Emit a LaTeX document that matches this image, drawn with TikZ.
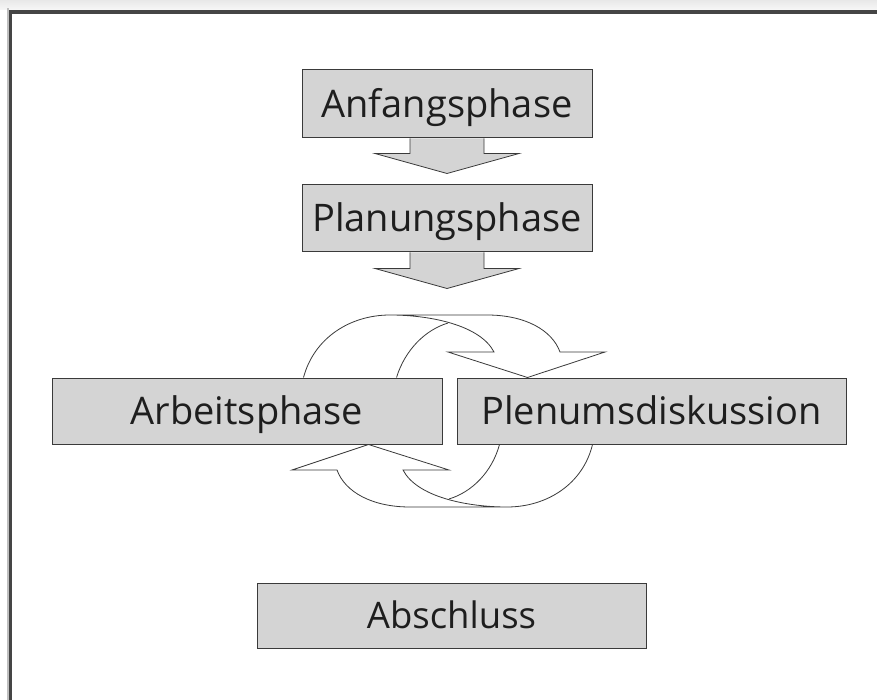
\documentclass[tikz,border=0pt]{standalone}
\usepackage{fontspec}
\setmainfont{Open Sans}
\usetikzlibrary{calc,backgrounds}
\definecolor{boxgray}{HTML}{D4D4D4}
\definecolor{edgegray}{HTML}{3A3A3A}
\definecolor{framegray}{HTML}{454545}
\definecolor{txtcol}{HTML}{1E1E1E}
\begin{document}
\begin{tikzpicture}[x=1pt,y=-1pt,
  phasebox/.style={draw=edgegray, line width=1pt, fill=boxgray, inner sep=0pt,
    text height=26.5pt, text depth=0pt, text=txtcol, font=\fontsize{38}{45}\selectfont},
  blockarrow/.style={draw=edgegray, line width=0.8pt, fill=boxgray, line join=miter},
  curvearrow/.style={draw=edgegray, line width=0.8pt, line join=miter},
  framestyle/.style={draw=framegray, line width=3.5pt, line join=miter}]
\useasboundingbox (0,0) rectangle (877,700);

% boxes
\node[phasebox, minimum width=290pt, minimum height=68pt] (anf) at (447,104) {Anfangsphase};
\node[phasebox, minimum width=290pt, minimum height=67pt] (plan) at (447,218.5) {Planungsphase};
\node[phasebox, minimum width=390pt, minimum height=66pt] (arb) at (247,411) {Arbeitsphase};
\node[phasebox, minimum width=389pt, minimum height=66pt] (plen) at (651.5,411) {Plenumsdiskussion};
\node[phasebox, minimum width=389pt, minimum height=65pt, text height=26pt, font=\fontsize{36.5}{43}\selectfont] (absch) at (451.5,615.5) {Abschluss};

\begin{scope}[on background layer]
  \fill[white] (0,0) rectangle (877,700);
  \shade[top color=black!9, bottom color=black!3] (0,0) rectangle (877,10);
  \fill[black!25] (7,8) rectangle (9,700);
  % block arrows
  \draw[blockarrow] ($(anf.south)+(-37,0)$) -- ++(0,15) -- ++(-35,0)
     -- ($(anf.south)+(0,35)$) -- ($(anf.south)+(72,15)$) -- ++(-35,0)
     -- ($(anf.south)+(37,0)$);
  \draw[blockarrow] ($(plan.south)+(-37,0)$) -- ++(0,16) -- ++(-35,0)
     -- ($(plan.south)+(0,36)$) -- ($(plan.south)+(72,16)$) -- ++(-35,0)
     -- ($(plan.south)+(37,0)$);
\end{scope}

% frame
\draw[framestyle] (10.7,700) -- (10.7,12) -- (877,12);

% curved arrow: Arbeitsphase -> Plenumsdiskussion
\coordinate (ta) at ($(arb.north west)+(252,0)$);
\coordinate (tb) at ($(arb.north west)+(345,0)$);
\coordinate (tt) at ($(plen.north west)+(71,0)$);
\draw[curvearrow] (ta) .. controls (314,338) and (350,315) .. (390,315)
   -- (487,315) .. controls (525,315) and (552,330) .. (560,352)
   -- (605,352) -- (tt) -- (448,352) -- (494,352)
   .. controls (480,325) and (430,315) .. (390,315);
\draw[curvearrow] (tb) .. controls (405,350) and (425,330) .. (448,323);

% curved arrow: Plenumsdiskussion -> Arbeitsphase
\coordinate (ba) at ($(plen.south west)+(136,0)$);
\coordinate (bb) at ($(plen.south west)+(43,0)$);
\coordinate (bt) at ($(arb.south west)+(317,0)$);
\draw[curvearrow] (ba) .. controls (583,484) and (547,507) .. (507,507)
   -- (410,507) .. controls (372,507) and (345,492) .. (337,470)
   -- (292,470) -- (bt) -- (449,470) -- (403,470)
   .. controls (417,497) and (467,507) .. (507,507);
\draw[curvearrow] (bb) .. controls (492,472) and (472,492) .. (449,499);
\end{tikzpicture}
\end{document}
